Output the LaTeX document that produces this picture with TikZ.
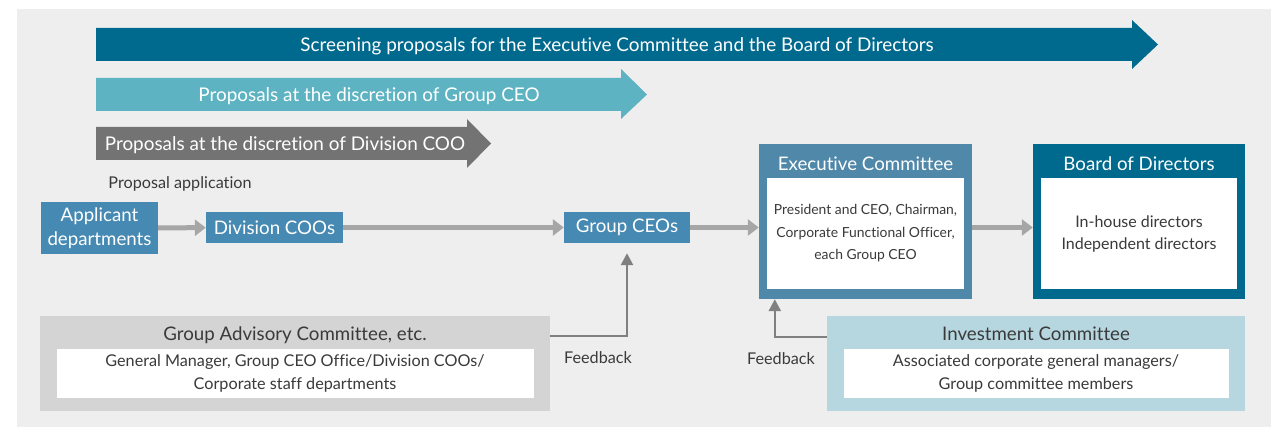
\documentclass[tikz,border=0pt]{standalone}
\usepackage{fontspec}
\setmainfont{Lato}[Ligatures=NoCommon]
\usetikzlibrary{arrows.meta,positioning,calc}
\definecolor{PanelGray}{HTML}{EEEEEE}
\definecolor{DeepTeal}{HTML}{006A8E}
\definecolor{LightTeal}{HTML}{5DB3C2}
\definecolor{BannerGray}{HTML}{737373}
\definecolor{StepBlue}{HTML}{4689B2}
\definecolor{ExecBlue}{HTML}{5088A9}
\definecolor{LinkGray}{HTML}{A6A6A6}
\definecolor{FeedGray}{HTML}{808080}
\definecolor{AdvGray}{HTML}{D4D4D4}
\definecolor{InvBlue}{HTML}{B7D7E0}
\definecolor{InkGray}{HTML}{3A3A3A}
\tikzset{
  bannertext/.style={text=white,font=\fontsize{18.9}{21}\selectfont,inner sep=0pt,
    yshift=-1.5pt},
  stepbox/.style={fill=StepBlue,text=white,font=\fontsize{18.7}{24}\selectfont,
    inner sep=0pt,align=center},
  outerbox/.style={inner sep=0pt,minimum height=155pt},
  panelbox/.style={inner sep=0pt,minimum height=95pt},
  whitebox/.style={fill=white,inner sep=0pt,align=center,text=InkGray},
  titletext/.style={font=\fontsize{18.7}{21}\selectfont,inner sep=0pt},
  note/.style={text=InkGray,font=\fontsize{16.2}{18}\selectfont,inner sep=0pt},
  link/.style={-{Triangle[length=11pt,width=16pt]},line width=5pt,LinkGray},
  feedback/.style={-{Triangle[length=12pt,width=12pt]},line width=2.5pt,FeedGray}
}
\begin{document}
\begin{tikzpicture}[x=1pt,y=-1pt]
  \useasboundingbox (0,0) rectangle (1271,427);
  \fill[white] (0,0) rectangle (1271,427);
  \fill[PanelGray] (17,9) rectangle (1271,427);

  % scope banners
  \fill[DeepTeal] (96,28) -- (1132,28) -- (1132,20) -- (1158,44.5) -- (1132,69)
    -- (1132,61) -- (96,61) -- cycle;
  \fill[LightTeal] (96,78) -- (621,78) -- (621,69) -- (647,94.5) -- (621,119)
    -- (621,111) -- (96,111) -- cycle;
  \fill[BannerGray] (96,127) -- (467,127) -- (467,119) -- (491,143.5) -- (467,168)
    -- (467,160) -- (96,160) -- cycle;
  \node[bannertext] (scrtext) at (617,44.5)
    {Screening proposals for the Executive Committee and the Board of Directors};
  \node[bannertext] (ceotext) at (369,94.5) {Proposals at the discretion of Group CEO};
  \node[bannertext] (cootext) at (285,143.5) {Proposals at the discretion of Division COO};

  \node[note] (apptext) at (180,184) {Proposal application};

  % proposal flow
  \node[stepbox,minimum width=117pt,minimum height=52pt] (appl) at (99.5,228)
    {Applicant\\departments};
  \node[stepbox,minimum width=137pt,minimum height=31pt] (dcoo) at (274.5,227.5)
    {Division COOs};
  \node[stepbox,minimum width=126pt,minimum height=31pt] (gceo) at (627,227.5)
    {Group CEOs};

  \node[outerbox,fill=ExecBlue,minimum width=213pt] (exec) at (865.5,221.5) {};
  \node[titletext,text=white] (exectitle) at ([yshift=-20pt]exec.north) {Executive Committee};
  \node[whitebox,anchor=north,below=34pt of exec.north,minimum width=197pt,
    minimum height=111pt,font=\fontsize{13.9}{22.5}\selectfont] (execin)
    {President and CEO, Chairman,\\Corporate Functional Officer,\\each Group CEO};

  \node[outerbox,fill=DeepTeal,minimum width=212pt] (board) at (1139,221.5) {};
  \node[titletext,text=white] (boardtitle) at ([yshift=-20pt]board.north) {Board of Directors};
  \node[whitebox,anchor=north,below=34pt of board.north,minimum width=196pt,
    minimum height=111pt,font=\fontsize{16}{22}\selectfont] (boardin)
    {In-house directors\\Independent directors};

  \draw[link] (appl) -- (dcoo);
  \draw[link] (dcoo) -- (gceo);
  \draw[link] (gceo.east) -- (gceo.east -| exec.west);
  \draw[link] (exec.east |- gceo.east) -- (board.west |- gceo.east);

  % advisory bodies
  \node[panelbox,fill=AdvGray,minimum width=510pt] (adv) at (295,363.5) {};
  \node[titletext,text=InkGray] (advtitle) at ([yshift=-19pt]adv.north)
    {Group Advisory Committee, etc.};
  \node[whitebox,below=33pt of adv.north,minimum width=477pt,minimum height=49pt,
    font=\fontsize{16.2}{23}\selectfont] (advin)
    {General Manager, Group CEO Office/Division COOs/\\Corporate staff departments};

  \node[panelbox,fill=InvBlue,minimum width=418pt] (inv) at (1036,363.5) {};
  \node[titletext,text=InkGray] (invtitle) at ([yshift=-18pt]inv.north)
    {Investment Committee};
  \node[whitebox,below=33pt of inv.north,minimum width=385pt,minimum height=49pt,
    font=\fontsize{16.2}{23}\selectfont] (invin)
    {Associated corporate general managers/\\Group committee members};

  \coordinate (fbone) at (adv.east |- 0,336);
  \coordinate (fbtwo) at (inv.west |- 0,337);
  \draw[feedback,shorten >=10pt] (fbone) -| (gceo.south);
  \draw[feedback] (fbtwo) -| ([xshift=16pt]exec.south west);
  \node[note] (fbonetext) at (598,358) {Feedback};
  \node[note] (fbtwotext) at (781,359) {Feedback};
\end{tikzpicture}
\end{document}
